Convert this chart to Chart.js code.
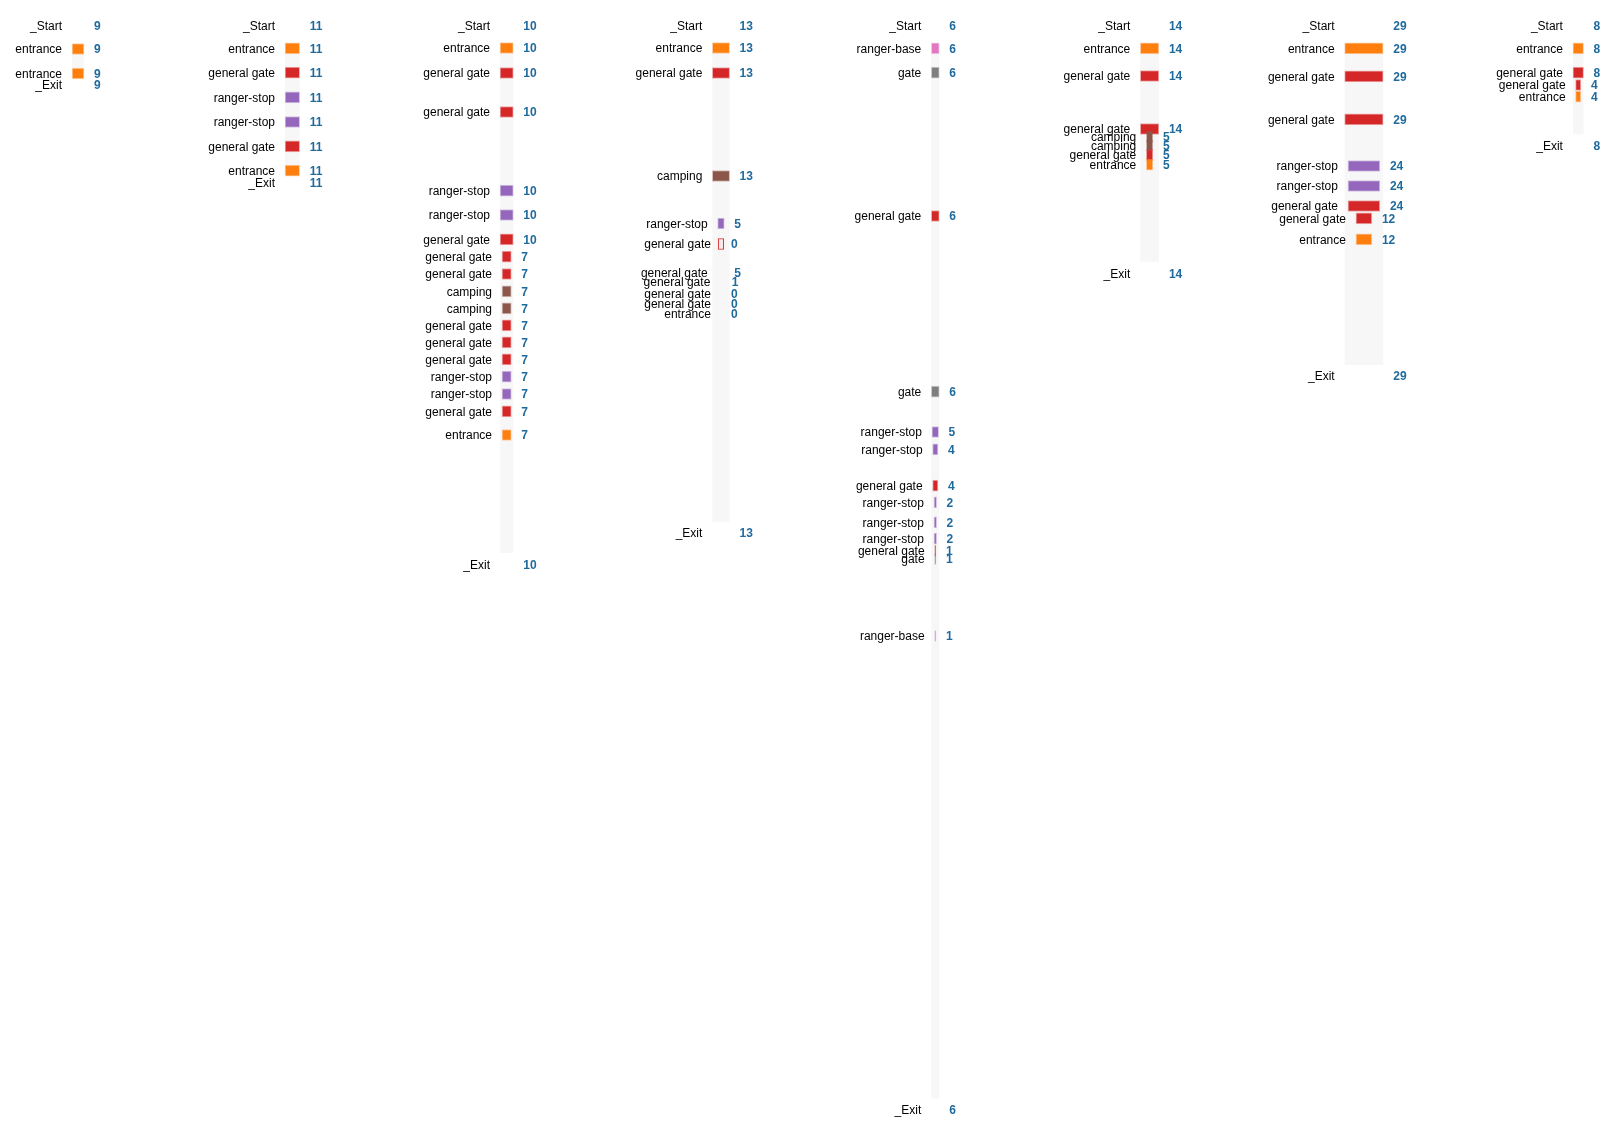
<!DOCTYPE html>
<html>
<head>
<meta charset="utf-8">
<script src="https://cdn.jsdelivr.net/npm/chart.js@4.4.1/dist/chart.umd.min.js"></script>
<style>
  html, body { margin: 0; padding: 0; background: #ffffff; }
  #wrap { width: 1623px; height: 1134px; position: relative; }
</style>
</head>
<body>
<div id="wrap"><canvas id="c"></canvas></div>
<script>
// ---------- DATA (one small set of arrays per visitor path) ----------
const col1Steps = ['_Start', 'entrance', 'entrance', '_Exit'];
const col1Values = [9, 9, 9, 9];
const col1Times = [25.7, 49, 73.5, 85];
const col1End = 73.5;

const col2Steps = ['_Start', 'entrance', 'general gate', 'ranger-stop', 'ranger-stop', 'general gate', 'entrance', '_Exit'];
const col2Values = [11, 11, 11, 11, 11, 11, 11, 11];
const col2Times = [25.7, 48.3, 72.7, 97.3, 122, 146.3, 170.7, 182.7];
const col2End = 170.7;

const col3Steps = ['_Start', 'entrance', 'general gate', 'general gate', 'ranger-stop', 'ranger-stop', 'general gate',
  'general gate', 'general gate', 'camping', 'camping', 'general gate', 'general gate', 'general gate',
  'ranger-stop', 'ranger-stop', 'general gate', 'entrance', '_Exit'];
const col3Values = [10, 10, 10, 10, 10, 10, 10, 7, 7, 7, 7, 7, 7, 7, 7, 7, 7, 7, 10];
const col3Times = [25.7, 48, 73, 112, 190.7, 215, 239.3, 256.7, 274, 291.3, 308.3, 325.3, 342.3, 359.3,
  376.7, 394, 411.3, 435, 565];
const col3End = 553;

const col4Steps = ['_Start', 'entrance', 'general gate', 'camping', 'ranger-stop', 'general gate', 'general gate',
  'general gate', 'general gate', 'general gate', 'entrance', '_Exit'];
const col4Values = [13, 13, 13, 13, 5, 0, 5, 1, 0, 0, 0, 13];
const col4Times = [25.7, 48, 73, 176, 223.5, 244, 272.3, 281.3, 294, 304, 313.3, 532.7];
const col4Marked = [false, true, true, true, true, true, false, false, false, false, false, false];
const col4End = 521.7;

const col5Steps = ['_Start', 'ranger-base', 'gate', 'general gate', 'gate', 'ranger-stop', 'ranger-stop',
  'general gate', 'ranger-stop', 'ranger-stop', 'ranger-stop', 'general gate', 'gate', 'ranger-base', '_Exit'];
const col5Values = [6, 6, 6, 6, 6, 5, 4, 4, 2, 2, 2, 1, 1, 1, 6];
const col5Times = [25.7, 48.3, 72.7, 216, 391.7, 432, 449.3, 485.7, 502.3, 522.3, 538.7, 550.7, 559, 636, 1110];
const col5End = 1098.3;

const col6Steps = ['_Start', 'entrance', 'general gate', 'general gate', 'camping', 'camping', 'general gate', 'entrance', '_Exit'];
const col6Values = [14, 14, 14, 14, 5, 5, 5, 5, 14];
const col6Times = [25.7, 48.3, 76, 129, 136.7, 145.5, 155, 164.7, 274];
const col6End = 261.7;

const col7Steps = ['_Start', 'entrance', 'general gate', 'general gate', 'ranger-stop', 'ranger-stop',
  'general gate', 'general gate', 'entrance', '_Exit'];
const col7Values = [29, 29, 29, 29, 24, 24, 24, 12, 12, 29];
const col7Times = [25.7, 48.3, 76.3, 119.3, 166, 186, 206, 218.3, 239.3, 376];
const col7End = 365;

const col8Steps = ['_Start', 'entrance', 'general gate', 'general gate', 'entrance', '_Exit'];
const col8Values = [8, 8, 8, 4, 4, 8];
const col8Times = [25.7, 48.3, 72.7, 85, 96.7, 145.7];
const col8End = 134.3;

// ---------- STYLE / LAYOUT ----------
const stepColors = {
  'entrance': '#ff7f0e',
  'general gate': '#d62728',
  'ranger-stop': '#9467bd',
  'camping': '#8c564b',
  'ranger-base': '#e377c2',
  'gate': '#7f7f7f'
};
const valueColor = '#1f6a9c';
const labelFont = '12px "Liberation Sans", Arial, Helvetica, sans-serif';
const valueFont = 'bold 12px "Liberation Sans", Arial, Helvetica, sans-serif';
const X_MAX = 1220;           // x axis in visitor units
const COL_FIRST = 58.65;      // centre of first lane (visitor units)
const COL_STEP = 161.1;       // lane spacing (visitor units)
const ZERO_SPAN = 4.2;        // visible width for an emptied step

const columns = [
  { steps: col1Steps, values: col1Values, times: col1Times, end: col1End },
  { steps: col2Steps, values: col2Values, times: col2Times, end: col2End },
  { steps: col3Steps, values: col3Values, times: col3Times, end: col3End },
  { steps: col4Steps, values: col4Values, times: col4Times, end: col4End, marked: col4Marked },
  { steps: col5Steps, values: col5Values, times: col5Times, end: col5End },
  { steps: col6Steps, values: col6Values, times: col6Times, end: col6End },
  { steps: col7Steps, values: col7Values, times: col7Times, end: col7End },
  { steps: col8Steps, values: col8Values, times: col8Times, end: col8End }
];

function hexA(hex, a) {
  const n = parseInt(hex.slice(1), 16);
  return `rgba(${(n >> 16) & 255},${(n >> 8) & 255},${n & 255},${a})`;
}
function isMarked(col, i) {
  const s = col.steps[i];
  if (s === '_Start' || s === '_Exit') return false;
  return col.marked ? col.marked[i] : true;
}

const datasets = columns.map((col, ci) => {
  const c = COL_FIRST + COL_STEP * ci;
  const data = [], bg = [], bd = [];
  col.steps.forEach((s, i) => {
    if (!isMarked(col, i)) return;
    const v = col.values[i];
    const half = (v === 0 ? ZERO_SPAN : v) / 2;
    data.push({ x: [c - half, c + half], y: col.times[i] });
    const color = stepColors[s] || '#999999';
    if (v === 0) { bg.push('#fbe9e9'); bd.push(color); }
    else { bg.push(color); bd.push(hexA(color, 0.35)); }
  });
  return {
    label: 'path ' + (ci + 1),
    data,
    backgroundColor: bg,
    borderColor: bd,
    borderWidth: 1,
    borderSkipped: false,
    barThickness: 11,
    grouped: false
  };
});

const lanePlugin = {
  id: 'lanes',
  beforeDatasetsDraw(chart) {
    const { ctx, scales: { x, y } } = chart;
    ctx.save();
    ctx.fillStyle = '#f7f7f7';
    columns.forEach((col, ci) => {
      const c = COL_FIRST + COL_STEP * ci;
      const maxV = col.values[0];
      let first = null;
      col.steps.forEach((s, i) => { if (first === null && isMarked(col, i)) first = col.times[i]; });
      const x0 = x.getPixelForValue(c - maxV / 2), x1 = x.getPixelForValue(c + maxV / 2);
      const y0 = y.getPixelForValue(first) - 5, y1 = y.getPixelForValue(col.end);
      ctx.fillRect(x0, y0, x1 - x0, y1 - y0);
    });
    ctx.restore();
  },
  afterDatasetsDraw(chart) {
    const { ctx, scales: { x, y } } = chart;
    ctx.save();
    ctx.textBaseline = 'middle';
    columns.forEach((col, ci) => {
      const c = COL_FIRST + COL_STEP * ci;
      col.steps.forEach((s, i) => {
        const v = col.values[i];
        const py = y.getPixelForValue(col.times[i]) + 1;
        const x0 = x.getPixelForValue(c - v / 2), x1 = x.getPixelForValue(c + v / 2);
        ctx.font = labelFont;
        ctx.fillStyle = '#000000';
        ctx.textAlign = 'right';
        ctx.fillText(s, x0 - 10, py);
        ctx.font = valueFont;
        ctx.fillStyle = valueColor;
        ctx.textAlign = 'left';
        ctx.fillText(String(v), x1 + 10, py);
      });
    });
    ctx.restore();
  }
};

new Chart(document.getElementById('c'), {
  type: 'bar',
  data: { datasets },
  options: {
    indexAxis: 'y',
    responsive: true,
    maintainAspectRatio: false,
    animation: false,
    devicePixelRatio: 1,
    layout: { padding: 0 },
    scales: {
      x: { type: 'linear', min: 0, max: X_MAX, display: false, offset: false, grace: 0 },
      y: { type: 'linear', min: 0, max: 1134, reverse: true, display: false, offset: false, grace: 0 }
    },
    plugins: {
      legend: { display: false },
      tooltip: { enabled: false }
    }
  },
  plugins: [lanePlugin]
});
</script>
</body>
</html>
